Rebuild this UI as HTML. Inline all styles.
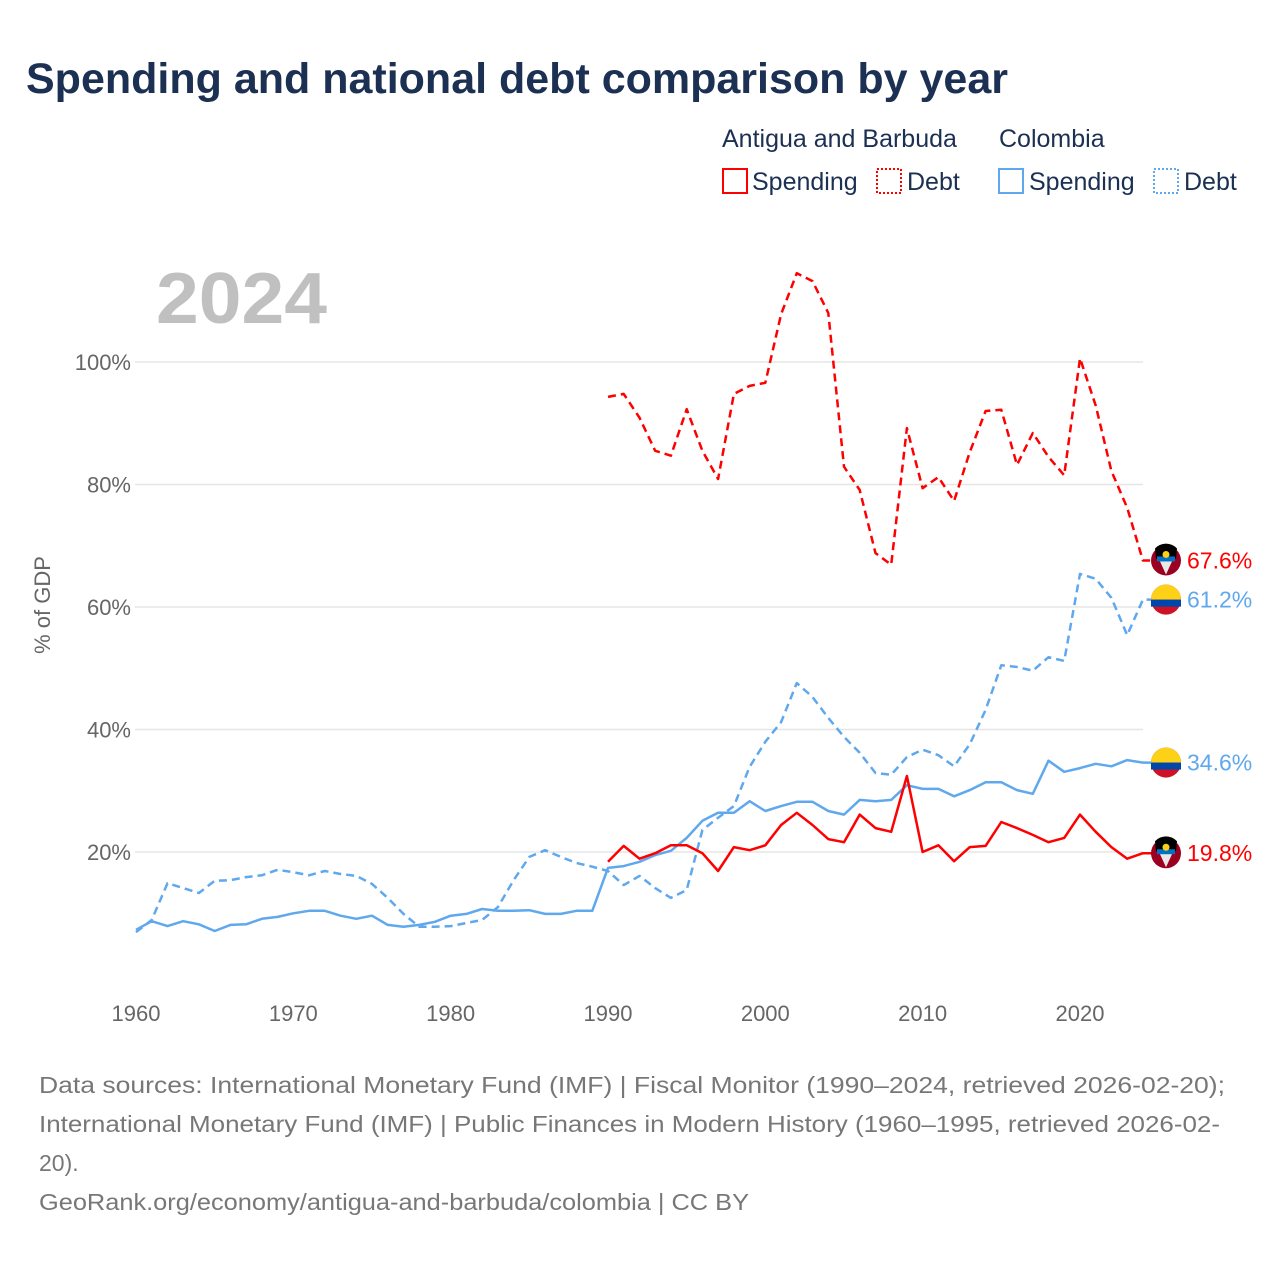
<!DOCTYPE html>
<html><head><meta charset="utf-8"><style>
body{margin:0;background:#fff;width:1280px;height:1280px;overflow:hidden;font-family:"Liberation Sans",sans-serif}
svg text{font-family:"Liberation Sans",sans-serif}
</style></head><body>
<svg id="chart" width="1280" height="1280" viewBox="0 0 1280 1280" xmlns="http://www.w3.org/2000/svg">
<text x="26" y="93" font-size="43" font-weight="bold" fill="#1b3052">Spending and national debt comparison by year</text>
<g font-size="25" fill="#1b3052">
<text x="722" y="147" fill="#1b3052">Antigua and Barbuda</text>
<text x="999" y="147" fill="#1b3052">Colombia</text>
<g><rect x="723" y="169" width="24" height="24" fill="none" stroke="#f00" stroke-width="2"/><text x="752" y="190" fill="#1b3052">Spending</text></g>
<g><rect x="877" y="169" width="24" height="24" fill="none" stroke="#f00" stroke-width="2" stroke-dasharray="2,2"/><text x="907" y="190" fill="#1b3052">Debt</text></g>
<g><rect x="999" y="169" width="24" height="24" fill="none" stroke="#5fa8ee" stroke-width="2"/><text x="1029" y="190" fill="#1b3052">Spending</text></g>
<g><rect x="1154" y="169" width="24" height="24" fill="none" stroke="#5fa8ee" stroke-width="2" stroke-dasharray="2,2"/><text x="1184" y="190" fill="#1b3052">Debt</text></g>
</g>
<text x="156" y="323" font-size="72" font-weight="bold" fill="#c0c0c0" textLength="171" lengthAdjust="spacingAndGlyphs">2024</text>
<text transform="translate(50,605) rotate(-90)" text-anchor="middle" font-size="22" fill="#666">% of GDP</text>
<g id="grid"></g><g id="series"></g><g id="labels"></g>
<g font-size="23" fill="#777">
<text x="39" y="1093" textLength="1186" lengthAdjust="spacingAndGlyphs">Data sources: International Monetary Fund (IMF) | Fiscal Monitor (1990–2024, retrieved 2026-02-20);</text>
<text x="39" y="1132" textLength="1181" lengthAdjust="spacingAndGlyphs">International Monetary Fund (IMF) | Public Finances in Modern History (1960–1995, retrieved 2026-02-</text>
<text x="39" y="1171">20).</text>
<text x="39" y="1210" textLength="710" lengthAdjust="spacingAndGlyphs">GeoRank.org/economy/antigua-and-barbuda/colombia | CC BY</text>
</g>
</svg>
<script>
const yTicks=[20,40,60,80,100];
const xTicks=[1960,1970,1980,1990,2000,2010,2020];
const colYears=[1960,1961,1962,1963,1964,1965,1966,1967,1968,1969,1970,1971,1972,1973,1974,1975,1976,1977,1978,1979,1980,1981,1982,1983,1984,1985,1986,1987,1988,1989,1990,1991,1992,1993,1994,1995,1996,1997,1998,1999,2000,2001,2002,2003,2004,2005,2006,2007,2008,2009,2010,2011,2012,2013,2014,2015,2016,2017,2018,2019,2020,2021,2022,2023,2024];
const colSpending=[7.3,8.7,7.9,8.7,8.2,7.1,8.1,8.2,9.1,9.4,10,10.4,10.4,9.6,9.1,9.6,8.1,7.8,8.1,8.6,9.6,9.9,10.7,10.4,10.4,10.5,9.9,9.9,10.4,10.4,17.4,17.7,18.4,19.5,20.2,22.3,25.1,26.4,26.4,28.3,26.7,27.5,28.2,28.2,26.7,26.1,28.5,28.3,28.5,30.9,30.3,30.3,29.1,30.1,31.4,31.4,30.1,29.5,34.9,33.1,33.7,34.4,34,35,34.6];
const colDebt=[6.9,8.9,14.9,14.1,13.3,15.3,15.4,15.9,16.2,17.1,16.7,16.2,16.9,16.4,16.1,14.8,12.5,9.9,7.8,7.8,7.9,8.4,8.9,11,15.4,19.2,20.3,19.2,18.2,17.6,16.9,14.6,16.1,14.1,12.5,13.8,23.6,25.6,27.5,33.9,38,41.2,47.6,45.3,41.9,38.8,36.2,32.9,32.6,35.5,36.7,35.8,34,37.6,43.2,50.5,50.2,49.6,51.8,51.2,65.4,64.6,61.5,55.4,61.2];
const atgYears=[1990,1991,1992,1993,1994,1995,1996,1997,1998,1999,2000,2001,2002,2003,2004,2005,2006,2007,2008,2009,2010,2011,2012,2013,2014,2015,2016,2017,2018,2019,2020,2021,2022,2023,2024];
const atgSpending=[18.4,21,18.9,19.8,21.1,21.1,19.8,16.9,20.8,20.3,21.1,24.4,26.4,24.4,22.1,21.6,26.1,23.9,23.3,32.4,20,21.1,18.5,20.8,21,24.9,23.9,22.8,21.6,22.3,26.1,23.3,20.8,18.9,19.8];
const atgDebt=[94.3,94.8,90.9,85.5,84.7,92.3,85.5,80.9,94.8,96.1,96.6,107.8,114.5,113.2,108,82.9,79.1,68.8,66.9,89.2,79.4,81.2,77.3,85.3,92,92.2,83.2,88.4,84.5,81.5,100.6,92.9,82.2,76.2,67.6];
const NS='http://www.w3.org/2000/svg';
const X=y=>136+(y-1960)*15.733;
const Y=v=>974.5-v*6.125;
function mk(t,a,p){const e=document.createElementNS(NS,t);for(const k in a)e.setAttribute(k,a[k]);p.appendChild(e);return e;}
const grid=document.getElementById('grid');
yTicks.forEach(v=>{
 const l=mk('line',{x1:135,x2:1143,y1:Y(v),y2:Y(v),stroke:'#e6e6e6','stroke-width':1.5},grid);
 
 
 const t=mk('text',{x:131,y:Y(v)+8,'text-anchor':'end','font-size':22,fill:'#666'},grid);t.textContent=v+'%';
 
 
});
xTicks.forEach(v=>{
 const t=mk('text',{x:X(v),y:1021,'text-anchor':'middle','font-size':22,fill:'#666'},grid);t.textContent=v;
 
 
});
const ser=document.getElementById('series');
function line(xs,vs,col,dash,name){
 let d=xs.map((y,i)=>(i?'L':'M')+X(y).toFixed(1)+','+Y(vs[i]).toFixed(1)).join('');
 d+='L1152,'+Y(vs[vs.length-1]).toFixed(1);
 const p=mk('path',{d:d,fill:'none',stroke:col,'stroke-width':2.5,'stroke-linejoin':'round'},ser);
 if(dash)p.setAttribute('stroke-dasharray','8,5');
 
 
}
line(colYears,colDebt,'#5fa8ee',true,'colombia-debt-line');
line(colYears,colSpending,'#5fa8ee',false,'colombia-spending-line');
line(atgYears,atgDebt,'#ff0000',true,'antigua-debt-line');
line(atgYears,atgSpending,'#ff0000',false,'antigua-spending-line');
const lab=document.getElementById('labels');
function flag(v,kind,col,name){
 const cy=Y(v),g=mk('g',{},lab);
 
 
 if(kind==='co'){
  mk('circle',{cx:1166,cy:cy,r:15,fill:'#ce1126'},g);
  mk('path',{d:`M1151,${cy} A15,15 0 0 1 1181,${cy} Z`,fill:'#fcd116'},g);
  mk('rect',{x:1151,y:cy,width:30,height:7,fill:'#0047ab'},g);
 }else{
  mk('circle',{cx:1166,cy:cy,r:15,fill:'#9b0020'},g);
  mk('path',{d:`M1155,${cy-10} L1177,${cy-10} L1166,${cy+14} Z`,fill:'#e8e8e8'},g);
  mk('path',{d:`M1155,${cy-12} A15,15 0 0 1 1177,${cy-12} L1176,${cy-2} L1156,${cy-2} Z`,fill:'#000'},g);
  mk('rect',{x:1157,y:cy-4,width:18,height:5,fill:'#0072c6'},g);
  mk('circle',{cx:1166,cy:cy-6,r:3.5,fill:'#fcd116'},g);
 }
 const t=mk('text',{x:1187,y:cy+8,'font-size':23,fill:col},lab);t.textContent=v.toFixed(1)+'%';
 
 
}
flag(atgDebt[atgDebt.length-1],'ag','#ff0000','antigua-debt-end-label');
flag(colDebt[colDebt.length-1],'co','#5fa8ee','colombia-debt-end-label');
flag(colSpending[colSpending.length-1],'co','#5fa8ee','colombia-spending-end-label');
flag(atgSpending[atgSpending.length-1],'ag','#ff0000','antigua-spending-end-label');
</script>
</body></html>
